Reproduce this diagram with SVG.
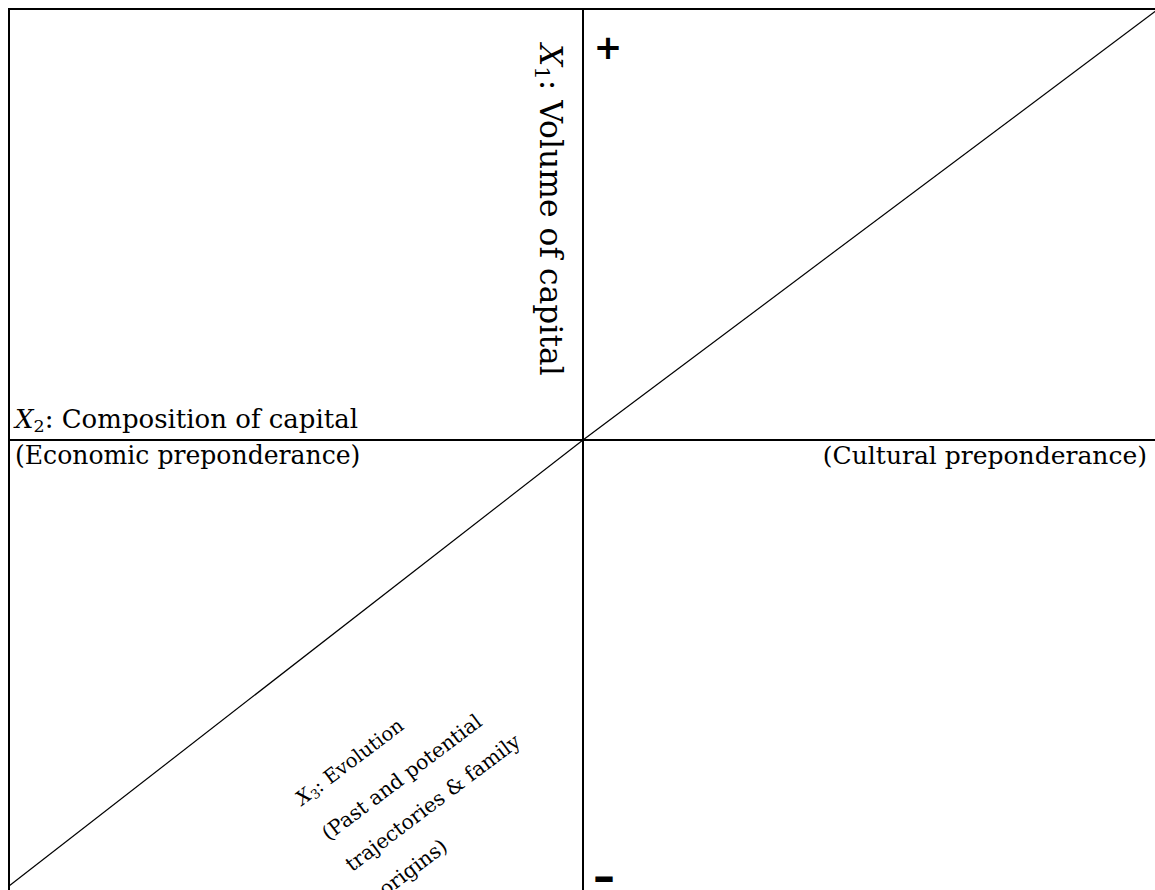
<svg xmlns="http://www.w3.org/2000/svg" width="1155" height="890" viewBox="0 0 1155 890">
<style>
.lbl{font-family:"DejaVu Serif","Liberation Serif",serif;fill:#000}
.it{font-style:italic}
.frame{stroke:#000;stroke-width:2;fill:none}
.diag{stroke:#000;stroke-width:1.2;fill:none}
.sign{font-family:"DejaVu Sans","Liberation Sans",sans-serif;font-weight:bold;fill:#000}
</style>
<rect width="1155" height="890" fill="#fff"/>
<g id="connectors">
<line class="frame" x1="8" y1="9" x2="1155" y2="9"/>
<line class="frame" x1="9" y1="8" x2="9" y2="890"/>
<line class="frame" x1="583" y1="8" x2="583" y2="890"/>
<line class="frame" x1="8" y1="440" x2="1155" y2="440"/>
<line class="diag" x1="1157" y1="10" x2="583" y2="440"/>
<line class="diag" x1="583" y1="440" x2="9" y2="886"/>
</g>
<g id="x1-axis">
<text class="lbl" font-size="31.4" transform="translate(540,44) rotate(90)"><tspan class="it">X</tspan><tspan font-size="21" dy="5">1</tspan><tspan dy="-5">: Volume of capital</tspan></text>
<text class="sign" font-size="34" x="608" y="59" text-anchor="middle">+</text>
<text class="sign" font-size="44" x="604" y="891" text-anchor="middle">–</text>
</g>
<g id="x2-axis">
<text class="lbl" font-size="26" x="15" y="428"><tspan class="it">X</tspan><tspan font-size="17.5" dy="4">2</tspan><tspan dy="-4">: Composition of capital</tspan></text>
<text class="lbl" font-size="25.1" x="15" y="464">(Economic preponderance)</text>
<text class="lbl" font-size="25" x="1147" y="464" text-anchor="end">(Cultural preponderance)</text>
</g>
<g id="x3-axis">
<g transform="translate(302,806) rotate(-37)">
<text class="lbl" font-size="19.5" x="0" y="0"><tspan class="it">X</tspan><tspan font-size="13" dy="3">3</tspan><tspan dy="-3">: Evolution</tspan></text>
<text class="lbl" font-size="20.3" x="0" y="44">(Past and potential</text>
<text class="lbl" font-size="20.3" x="0" y="83">trajectories &amp; family</text>
<text class="lbl" font-size="20.3" x="12" y="123">origins)</text>
</g>
</g>
</svg>
